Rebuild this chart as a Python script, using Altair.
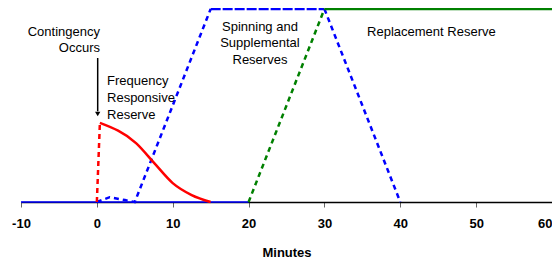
import altair as alt
import pandas as pd

# ---- data ----
tick_values = [-10, 0, 10, 20, 30, 40, 50, 60]

base_x = [-10, 20]
base_y = [0, 0]

red_ramp_x = [0, 0.4]
red_ramp_y = [0, 41]
red_x = [0.4, 5.2, 7.6, 10, 12.5, 15]
red_y = [41, 30.4, 20, 9.8, 3.6, 0]

blue_ramp_x = [0, 1.7, 3.7, 5, 15]
blue_ramp_y = [0, 2.5, 1, 0, 100]
blue_top_x = [15, 30]
blue_top_y = [100, 100]
blue_down_x = [30, 40]
blue_down_y = [100, 0]

green_ramp_x = [20, 30]
green_ramp_y = [0, 100]
green_top_x = [30, 60]
green_top_y = [100, 100]

labels_right = ["Contingency", "Occurs"]
labels_right_x = [0.41, 0.41]
labels_right_y = [88.1, 79.8]

labels_left = ["Frequency", "Responsive", "Reserve"]
labels_left_x = [1.34, 1.34, 1.34]
labels_left_y = [62.7, 53.9, 45.1]

labels_center = ["Spinning and", "Supplemental", "Reserves", "Replacement Reserve"]
labels_center_x = [21.5, 21.5, 21.5, 44.1]
labels_center_y = [90.7, 82.4, 73.6, 88.1]

arrow_x = [0.11, 0.11]
arrow_y = [74.6, 47]
arrow_head_x = [0.11]
arrow_head_y = [45.6]

FONT = "Liberation Sans"

X = alt.X(
    "m:Q",
    scale=alt.Scale(domain=[-10, 60], nice=False, zero=False),
    axis=alt.Axis(
        values=tick_values,
        labelExpr="'' + datum.value",
        labelFlush=False,
        labelOverlap=False,
        labelAlign=alt.ExprRef(expr="datum.value == 60 ? 'right' : 'center'"),
        title="Minutes",
        grid=False,
        labelFont=FONT,
        labelFontSize=13,
        labelFontWeight="bold",
        labelColor="#000",
        labelPadding=10,
        tickSize=5,
        tickColor="#666",
        domainColor="#000",
        domainWidth=1.5,
        titleFont=FONT,
        titleFontSize=13,
        titleFontWeight="bold",
        titleColor="#000",
        titleY=44,
        titleBaseline="top",
    ),
)
Y = alt.Y("v:Q", scale=alt.Scale(domain=[0, 100], nice=False), axis=None)


def line(xs, ys, color, dash=None, width=2.5, interp="linear"):
    df = pd.DataFrame({"m": xs, "v": ys, "o": list(range(len(xs)))})
    kw = dict(color=color, strokeWidth=width, interpolate=interp)
    if dash:
        kw["strokeDash"] = dash
    return alt.Chart(df).mark_line(**kw).encode(x=X, y=Y, order="o:Q")


def texts(words, xs, ys, align):
    df = pd.DataFrame({"m": xs, "v": ys, "t": words})
    return alt.Chart(df).mark_text(
        font=FONT, fontSize=13, color="#000", align=align, baseline="middle"
    ).encode(x=X, y=Y, text="t:N")


layers = [
    line(base_x, base_y, "#0000FF", width=1.5),
    line(blue_ramp_x, blue_ramp_y, "#0000FF", dash=[5, 4]),
    line(blue_top_x, blue_top_y, "#0000FF", dash=[10, 2]),
    line(blue_down_x, blue_down_y, "#0000FF", dash=[5, 4]),
    line(green_ramp_x, green_ramp_y, "#008000", dash=[5, 4]),
    line(green_top_x, green_top_y, "#008000"),
    line(red_ramp_x, red_ramp_y, "#FF0000", dash=[5, 4]),
    line(red_x, red_y, "#FF0000", interp="monotone"),
    line(arrow_x, arrow_y, "#000000", width=1.5),
    alt.Chart(pd.DataFrame({"m": arrow_head_x, "v": arrow_head_y}))
    .mark_point(shape="triangle-down", filled=True, color="#000", size=28, opacity=1)
    .encode(x=X, y=Y),
    texts(labels_right, labels_right_x, labels_right_y, "right"),
    texts(labels_left, labels_left_x, labels_left_y, "left"),
    texts(labels_center, labels_center_x, labels_center_y, "center"),
]

chart = (
    alt.layer(*layers)
    .properties(
        width=531,
        height=193,
        padding={"left": 13, "top": 1, "right": 0, "bottom": 56},
        autosize=alt.AutoSizeParams(type="none"),
    )
    .configure_view(stroke=None)
)

chart.save("out.html", embed_options={"renderer": "svg", "actions": False})
